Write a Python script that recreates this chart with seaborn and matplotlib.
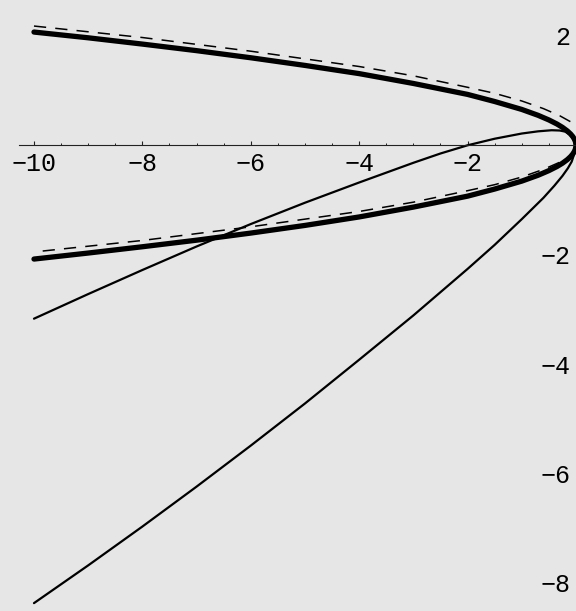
import matplotlib
matplotlib.use("Agg")
import numpy as np
import pandas as pd
import seaborn as sns
import matplotlib.pyplot as plt
from matplotlib.ticker import FixedLocator

# values

# thick parabola (upper branch, x from -10 to 0; lower branch is its mirror)
thick_x = [-10, -9, -8, -7, -6, -5, -4, -3, -2, -1.5, -1, -0.7, -0.5, -0.35, -0.25,
           -0.16, -0.1, -0.06, -0.03, -0.01, 0]
thick_up = [2.07, 1.965, 1.85, 1.73, 1.60, 1.46, 1.31, 1.13, 0.93, 0.80, 0.655, 0.548, 0.463,
            0.388, 0.328, 0.262, 0.207, 0.160, 0.113, 0.066, 0]
thick_lo = [-2.08, -1.97, -1.855, -1.735, -1.605, -1.465, -1.31, -1.13, -0.93, -0.80, -0.655,
            -0.548, -0.463, -0.388, -0.328, -0.262, -0.207, -0.160, -0.113, -0.066, 0]

# dashed curve, slightly shifted up, nose just right of the frame
dash_x = [-10, -8, -6, -4, -3, -2, -1.5, -1, -0.6, -0.3, -0.1, 0, 0.08, 0.13]
dash_up = [2.18, 1.97, 1.72, 1.44, 1.27, 1.06, 0.95, 0.81, 0.67, 0.54, 0.43, 0.35, 0.26, 0.115]
dash_lo = [-1.95, -1.74, -1.49, -1.21, -1.04, -0.83, -0.72, -0.58, -0.44, -0.31, -0.20, -0.12, -0.03, 0.115]

# thin curve with the small hump
thin1_x = [-10, -9, -8, -7, -6, -5, -4, -3, -2.5, -2, -1.5, -1, -0.7, -0.45, -0.3, -0.2,
           -0.12, -0.06, -0.02, 0]
thin1_y = [-3.17, -2.72, -2.28, -1.85, -1.44, -1.05, -0.68, -0.32, -0.15, 0.0, 0.12, 0.215,
           0.255, 0.275, 0.27, 0.25, 0.20, 0.13, 0.05, 0]

# thin curve going down to -8
thin2_x = [-10, -9, -8, -7, -6, -5, -4, -3, -2, -1.5, -1, -0.6, -0.4, -0.25, -0.15, -0.08, -0.03, 0]
thin2_y = [-8.37, -7.68, -6.97, -6.24, -5.49, -4.72, -3.92, -3.11, -2.26, -1.82, -1.35, -0.96,
           -0.74, -0.56, -0.42, -0.30, -0.15, 0]

xticks = [-10, -8, -6, -4, -2]
yticks = [2, -2, -4, -6, -8]

bg = "#e6e6e6"

sns.set_style("white")
plt.rcParams["font.family"] = ["Liberation Mono", "DejaVu Sans"]

fig = plt.figure(figsize=(5.76, 6.11), dpi=100)
fig.patch.set_facecolor(bg)
ax = fig.add_axes([0, 0, 1, 1])
ax.set_facecolor(bg)

# closed curves: go along upper branch then back along lower one
dx = dash_x + dash_x[::-1][1:]
dy = dash_up + dash_lo[::-1][1:]
sns.lineplot(x=dx, y=dy, sort=False, estimator=None, color="black",
             lw=1.1, linestyle=(0, (8, 6)), ax=ax)

tx = thick_x + thick_x[::-1][1:]
ty = thick_up + thick_lo[::-1][1:]
sns.lineplot(x=tx, y=ty, sort=False, estimator=None, color="black",
             lw=3.8, solid_capstyle="round", solid_joinstyle="round", ax=ax)

sns.lineplot(x=thin1_x, y=thin1_y, sort=False, estimator=None, color="black", lw=1.6,
             solid_joinstyle="round", ax=ax)
sns.lineplot(x=thin2_x, y=thin2_y, sort=False, estimator=None, color="black", lw=1.6,
             solid_joinstyle="round", ax=ax)

ax.set_xlim(-10.627, 0)
ax.set_ylim(-8.514, 2.656)

# x axis through y=0, y labels next to x=0 (right edge)
ax.spines["bottom"].set_position(("data", 0))
ax.spines["bottom"].set_bounds(-10.28, 0)
ax.spines["bottom"].set_linewidth(0.8)
ax.spines["bottom"].set_color("#222222")
ax.spines["left"].set_position(("data", 0))
ax.spines["left"].set_color("none")
ax.spines["top"].set_visible(False)
ax.spines["right"].set_visible(False)

ax.set_xticks(xticks)
ax.set_xticklabels(["\u2212" + str(-t) for t in xticks])
ax.xaxis.set_minor_locator(FixedLocator(np.arange(-10, 0, 0.5)))
ax.tick_params(axis="x", which="both", bottom=True, direction="in", color="#222222")
ax.tick_params(axis="x", which="major", length=3.2, width=0.8, pad=5,
               labelsize=18, labelcolor="black")
ax.tick_params(axis="x", which="minor", length=1.7, width=0.7)

ax.set_yticks(yticks)
ax.set_yticklabels([str(t) if t > 0 else "\u2212" + str(-t) for t in yticks])
ax.tick_params(axis="y", left=True, length=0, pad=4, labelsize=18, labelcolor="black")

ax.set_xlabel("")
ax.set_ylabel("")

fig.savefig("out.png", dpi=100, facecolor=bg)
